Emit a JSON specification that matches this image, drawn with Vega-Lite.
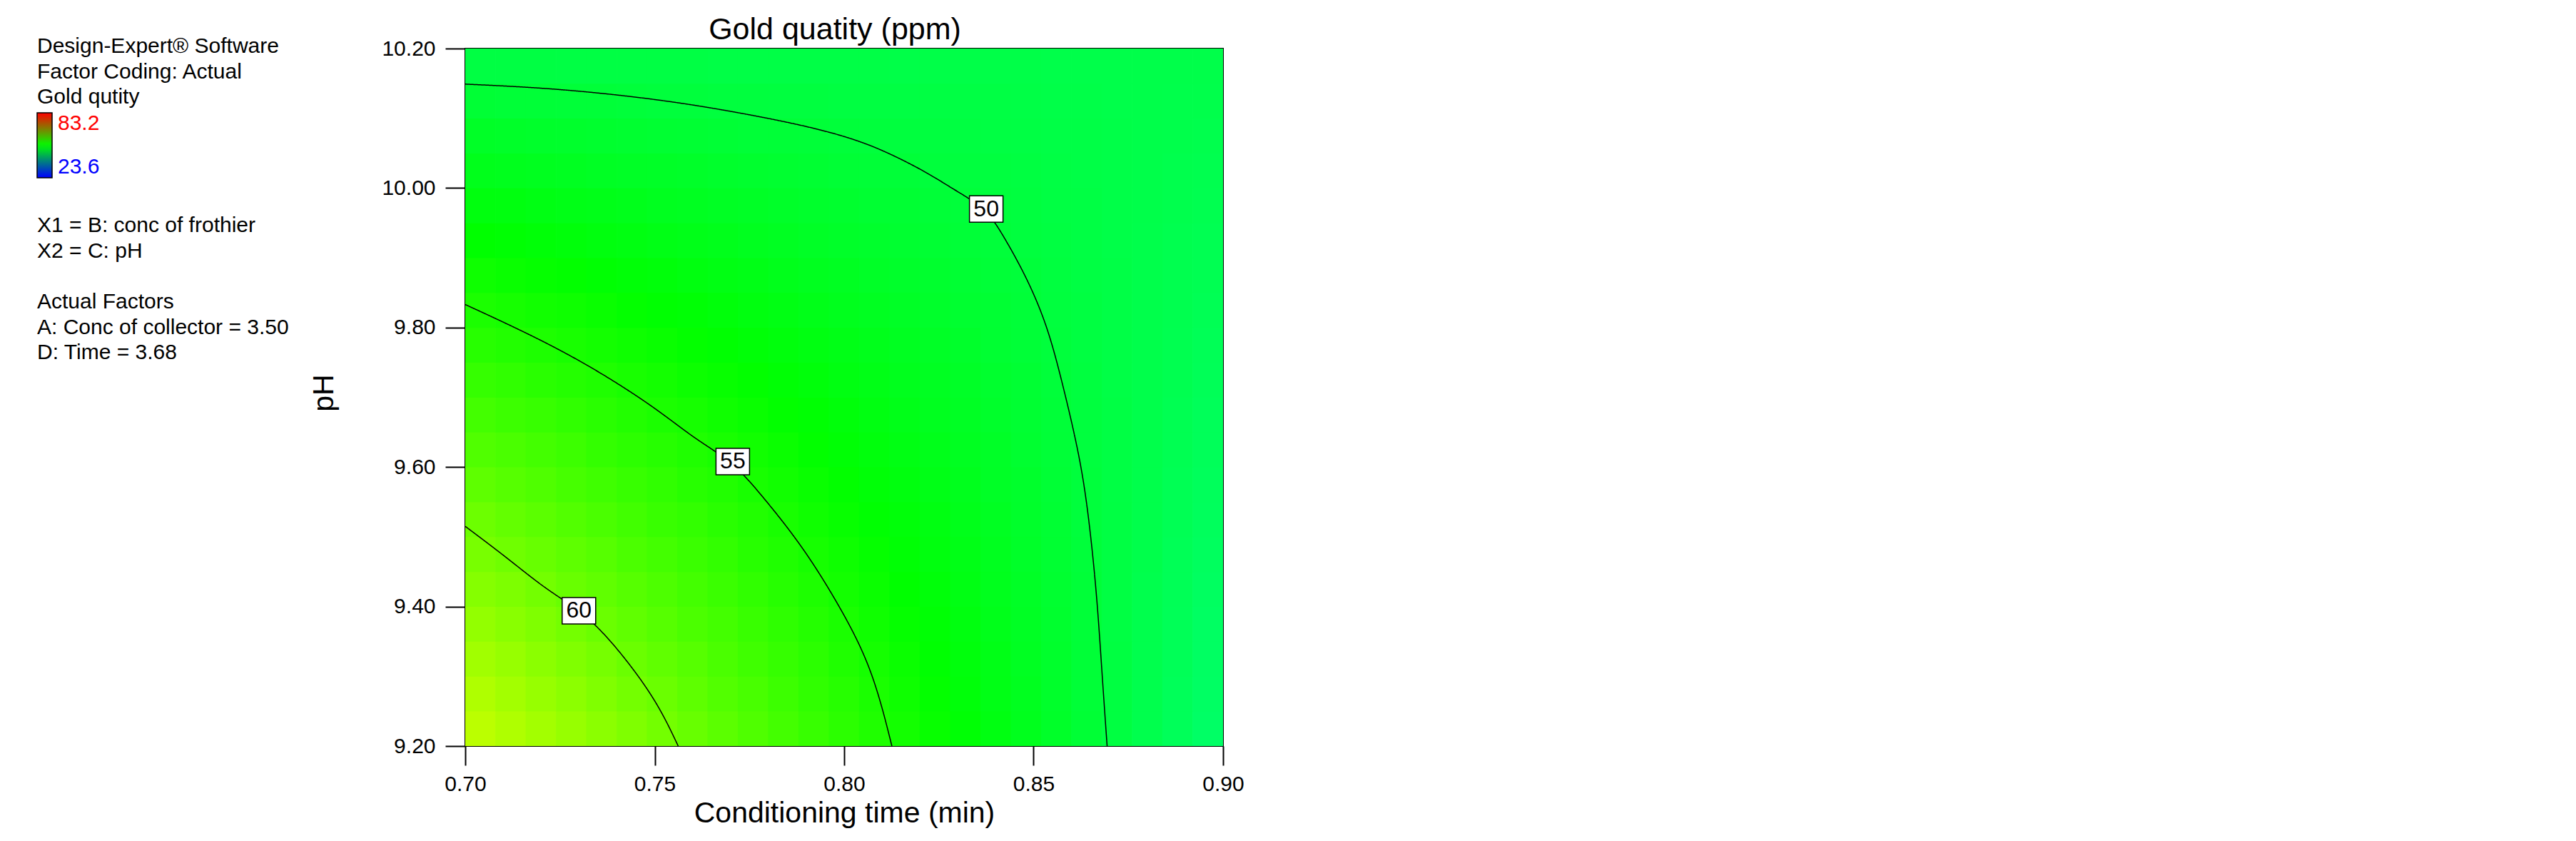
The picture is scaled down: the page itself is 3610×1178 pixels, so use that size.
{
"$schema": "https://vega.github.io/schema/vega-lite/v6.json",
"width": 1062,
"height": 977,
"autosize": {"type": "none"},
"padding": {"left": 652, "top": 68, "right": 1896, "bottom": 133},
"background": "white",
"title": {"text": "Gold quatity (ppm)", "fontSize": 43, "font": "Liberation Sans", "fontWeight": "normal", "color": "black", "anchor": "middle", "frame": "group", "baseline": "alphabetic", "offset": 0, "dx": -13, "dy": 48},
"config": {
"view": {"stroke": "black", "strokeWidth": 2},
"axis": {"labelFont": "Liberation Sans", "labelFontSize": 30, "labelColor": "black", "tickColor": "black", "tickWidth": 2, "domain": false, "grid": false, "titleFont": "Liberation Sans", "titleFontSize": 41, "titleFontWeight": "normal", "titleColor": "black", "labelFlush": false},
"legend": {"labelFont": "Liberation Sans", "titleFont": "Liberation Sans", "titleColor": "black", "labelColor": "black"}
},
"datasets": {
"grid": [
{"c":0.704,"p":9.225,"g":64.3},{"c":0.712,"p":9.225,"g":63.6},{"c":0.72,"p":9.225,"g":62.9},{"c":0.728,"p":9.225,"g":62.2},{"c":0.736,"p":9.225,"g":61.5},{"c":0.744,"p":9.225,"g":60.8},{"c":0.752,"p":9.225,"g":60.1},{"c":0.76,"p":9.225,"g":59.4},{"c":0.768,"p":9.225,"g":58.7},{"c":0.776,"p":9.225,"g":58.0},{"c":0.784,"p":9.225,"g":57.3},{"c":0.792,"p":9.225,"g":56.6},{"c":0.8,"p":9.225,"g":55.9},{"c":0.808,"p":9.225,"g":55.2},{"c":0.816,"p":9.225,"g":54.5},{"c":0.824,"p":9.225,"g":53.8},{"c":0.832,"p":9.225,"g":53.1},{"c":0.84,"p":9.225,"g":52.4},{"c":0.848,"p":9.225,"g":51.7},{"c":0.856,"p":9.225,"g":51.0},{"c":0.864,"p":9.225,"g":50.3},{"c":0.872,"p":9.225,"g":49.6},{"c":0.88,"p":9.225,"g":48.9},{"c":0.888,"p":9.225,"g":48.2},{"c":0.896,"p":9.225,"g":47.5},
{"c":0.704,"p":9.275,"g":63.6},{"c":0.712,"p":9.275,"g":62.9},{"c":0.72,"p":9.275,"g":62.2},{"c":0.728,"p":9.275,"g":61.6},{"c":0.736,"p":9.275,"g":60.9},{"c":0.744,"p":9.275,"g":60.2},{"c":0.752,"p":9.275,"g":59.6},{"c":0.76,"p":9.275,"g":58.9},{"c":0.768,"p":9.275,"g":58.2},{"c":0.776,"p":9.275,"g":57.6},{"c":0.784,"p":9.275,"g":56.9},{"c":0.792,"p":9.275,"g":56.2},{"c":0.8,"p":9.275,"g":55.6},{"c":0.808,"p":9.275,"g":54.9},{"c":0.816,"p":9.275,"g":54.2},{"c":0.824,"p":9.275,"g":53.6},{"c":0.832,"p":9.275,"g":52.9},{"c":0.84,"p":9.275,"g":52.2},{"c":0.848,"p":9.275,"g":51.6},{"c":0.856,"p":9.275,"g":50.9},{"c":0.864,"p":9.275,"g":50.2},{"c":0.872,"p":9.275,"g":49.6},{"c":0.88,"p":9.275,"g":48.9},{"c":0.888,"p":9.275,"g":48.2},{"c":0.896,"p":9.275,"g":47.6},
{"c":0.704,"p":9.325,"g":62.8},{"c":0.712,"p":9.325,"g":62.2},{"c":0.72,"p":9.325,"g":61.5},{"c":0.728,"p":9.325,"g":60.9},{"c":0.736,"p":9.325,"g":60.3},{"c":0.744,"p":9.325,"g":59.6},{"c":0.752,"p":9.325,"g":59.0},{"c":0.76,"p":9.325,"g":58.4},{"c":0.768,"p":9.325,"g":57.7},{"c":0.776,"p":9.325,"g":57.1},{"c":0.784,"p":9.325,"g":56.5},{"c":0.792,"p":9.325,"g":55.9},{"c":0.8,"p":9.325,"g":55.2},{"c":0.808,"p":9.325,"g":54.6},{"c":0.816,"p":9.325,"g":54.0},{"c":0.824,"p":9.325,"g":53.3},{"c":0.832,"p":9.325,"g":52.7},{"c":0.84,"p":9.325,"g":52.1},{"c":0.848,"p":9.325,"g":51.4},{"c":0.856,"p":9.325,"g":50.8},{"c":0.864,"p":9.325,"g":50.2},{"c":0.872,"p":9.325,"g":49.6},{"c":0.88,"p":9.325,"g":48.9},{"c":0.888,"p":9.325,"g":48.3},{"c":0.896,"p":9.325,"g":47.7},
{"c":0.704,"p":9.375,"g":62.0},{"c":0.712,"p":9.375,"g":61.4},{"c":0.72,"p":9.375,"g":60.8},{"c":0.728,"p":9.375,"g":60.2},{"c":0.736,"p":9.375,"g":59.6},{"c":0.744,"p":9.375,"g":59.0},{"c":0.752,"p":9.375,"g":58.4},{"c":0.76,"p":9.375,"g":57.8},{"c":0.768,"p":9.375,"g":57.3},{"c":0.776,"p":9.375,"g":56.7},{"c":0.784,"p":9.375,"g":56.1},{"c":0.792,"p":9.375,"g":55.5},{"c":0.8,"p":9.375,"g":54.9},{"c":0.808,"p":9.375,"g":54.3},{"c":0.816,"p":9.375,"g":53.7},{"c":0.824,"p":9.375,"g":53.1},{"c":0.832,"p":9.375,"g":52.5},{"c":0.84,"p":9.375,"g":51.9},{"c":0.848,"p":9.375,"g":51.3},{"c":0.856,"p":9.375,"g":50.7},{"c":0.864,"p":9.375,"g":50.1},{"c":0.872,"p":9.375,"g":49.5},{"c":0.88,"p":9.375,"g":48.9},{"c":0.888,"p":9.375,"g":48.3},{"c":0.896,"p":9.375,"g":47.7},
{"c":0.704,"p":9.425,"g":61.2},{"c":0.712,"p":9.425,"g":60.7},{"c":0.72,"p":9.425,"g":60.1},{"c":0.728,"p":9.425,"g":59.5},{"c":0.736,"p":9.425,"g":59.0},{"c":0.744,"p":9.425,"g":58.4},{"c":0.752,"p":9.425,"g":57.9},{"c":0.76,"p":9.425,"g":57.3},{"c":0.768,"p":9.425,"g":56.8},{"c":0.776,"p":9.425,"g":56.2},{"c":0.784,"p":9.425,"g":55.6},{"c":0.792,"p":9.425,"g":55.1},{"c":0.8,"p":9.425,"g":54.5},{"c":0.808,"p":9.425,"g":54.0},{"c":0.816,"p":9.425,"g":53.4},{"c":0.824,"p":9.425,"g":52.9},{"c":0.832,"p":9.425,"g":52.3},{"c":0.84,"p":9.425,"g":51.7},{"c":0.848,"p":9.425,"g":51.2},{"c":0.856,"p":9.425,"g":50.6},{"c":0.864,"p":9.425,"g":50.1},{"c":0.872,"p":9.425,"g":49.5},{"c":0.88,"p":9.425,"g":48.9},{"c":0.888,"p":9.425,"g":48.4},{"c":0.896,"p":9.425,"g":47.8},
{"c":0.704,"p":9.475,"g":60.4},{"c":0.712,"p":9.475,"g":59.9},{"c":0.72,"p":9.475,"g":59.4},{"c":0.728,"p":9.475,"g":58.9},{"c":0.736,"p":9.475,"g":58.4},{"c":0.744,"p":9.475,"g":57.8},{"c":0.752,"p":9.475,"g":57.3},{"c":0.76,"p":9.475,"g":56.8},{"c":0.768,"p":9.475,"g":56.3},{"c":0.776,"p":9.475,"g":55.7},{"c":0.784,"p":9.475,"g":55.2},{"c":0.792,"p":9.475,"g":54.7},{"c":0.8,"p":9.475,"g":54.2},{"c":0.808,"p":9.475,"g":53.7},{"c":0.816,"p":9.475,"g":53.1},{"c":0.824,"p":9.475,"g":52.6},{"c":0.832,"p":9.475,"g":52.1},{"c":0.84,"p":9.475,"g":51.6},{"c":0.848,"p":9.475,"g":51.0},{"c":0.856,"p":9.475,"g":50.5},{"c":0.864,"p":9.475,"g":50.0},{"c":0.872,"p":9.475,"g":49.5},{"c":0.88,"p":9.475,"g":49.0},{"c":0.888,"p":9.475,"g":48.4},{"c":0.896,"p":9.475,"g":47.9},
{"c":0.704,"p":9.525,"g":59.7},{"c":0.712,"p":9.525,"g":59.2},{"c":0.72,"p":9.525,"g":58.7},{"c":0.728,"p":9.525,"g":58.2},{"c":0.736,"p":9.525,"g":57.7},{"c":0.744,"p":9.525,"g":57.2},{"c":0.752,"p":9.525,"g":56.7},{"c":0.76,"p":9.525,"g":56.3},{"c":0.768,"p":9.525,"g":55.8},{"c":0.776,"p":9.525,"g":55.3},{"c":0.784,"p":9.525,"g":54.8},{"c":0.792,"p":9.525,"g":54.3},{"c":0.8,"p":9.525,"g":53.8},{"c":0.808,"p":9.525,"g":53.3},{"c":0.816,"p":9.525,"g":52.9},{"c":0.824,"p":9.525,"g":52.4},{"c":0.832,"p":9.525,"g":51.9},{"c":0.84,"p":9.525,"g":51.4},{"c":0.848,"p":9.525,"g":50.9},{"c":0.856,"p":9.525,"g":50.4},{"c":0.864,"p":9.525,"g":49.9},{"c":0.872,"p":9.525,"g":49.5},{"c":0.88,"p":9.525,"g":49.0},{"c":0.888,"p":9.525,"g":48.5},{"c":0.896,"p":9.525,"g":48.0},
{"c":0.704,"p":9.575,"g":58.9},{"c":0.712,"p":9.575,"g":58.4},{"c":0.72,"p":9.575,"g":58.0},{"c":0.728,"p":9.575,"g":57.5},{"c":0.736,"p":9.575,"g":57.1},{"c":0.744,"p":9.575,"g":56.6},{"c":0.752,"p":9.575,"g":56.2},{"c":0.76,"p":9.575,"g":55.7},{"c":0.768,"p":9.575,"g":55.3},{"c":0.776,"p":9.575,"g":54.8},{"c":0.784,"p":9.575,"g":54.4},{"c":0.792,"p":9.575,"g":53.9},{"c":0.8,"p":9.575,"g":53.5},{"c":0.808,"p":9.575,"g":53.0},{"c":0.816,"p":9.575,"g":52.6},{"c":0.824,"p":9.575,"g":52.1},{"c":0.832,"p":9.575,"g":51.7},{"c":0.84,"p":9.575,"g":51.2},{"c":0.848,"p":9.575,"g":50.8},{"c":0.856,"p":9.575,"g":50.3},{"c":0.864,"p":9.575,"g":49.9},{"c":0.872,"p":9.575,"g":49.4},{"c":0.88,"p":9.575,"g":49.0},{"c":0.888,"p":9.575,"g":48.5},{"c":0.896,"p":9.575,"g":48.1},
{"c":0.704,"p":9.625,"g":58.1},{"c":0.712,"p":9.625,"g":57.7},{"c":0.72,"p":9.625,"g":57.3},{"c":0.728,"p":9.625,"g":56.9},{"c":0.736,"p":9.625,"g":56.4},{"c":0.744,"p":9.625,"g":56.0},{"c":0.752,"p":9.625,"g":55.6},{"c":0.76,"p":9.625,"g":55.2},{"c":0.768,"p":9.625,"g":54.8},{"c":0.776,"p":9.625,"g":54.4},{"c":0.784,"p":9.625,"g":54.0},{"c":0.792,"p":9.625,"g":53.5},{"c":0.8,"p":9.625,"g":53.1},{"c":0.808,"p":9.625,"g":52.7},{"c":0.816,"p":9.625,"g":52.3},{"c":0.824,"p":9.625,"g":51.9},{"c":0.832,"p":9.625,"g":51.5},{"c":0.84,"p":9.625,"g":51.1},{"c":0.848,"p":9.625,"g":50.6},{"c":0.856,"p":9.625,"g":50.2},{"c":0.864,"p":9.625,"g":49.8},{"c":0.872,"p":9.625,"g":49.4},{"c":0.88,"p":9.625,"g":49.0},{"c":0.888,"p":9.625,"g":48.6},{"c":0.896,"p":9.625,"g":48.2},
{"c":0.704,"p":9.675,"g":57.3},{"c":0.712,"p":9.675,"g":56.9},{"c":0.72,"p":9.675,"g":56.6},{"c":0.728,"p":9.675,"g":56.2},{"c":0.736,"p":9.675,"g":55.8},{"c":0.744,"p":9.675,"g":55.4},{"c":0.752,"p":9.675,"g":55.0},{"c":0.76,"p":9.675,"g":54.7},{"c":0.768,"p":9.675,"g":54.3},{"c":0.776,"p":9.675,"g":53.9},{"c":0.784,"p":9.675,"g":53.5},{"c":0.792,"p":9.675,"g":53.2},{"c":0.8,"p":9.675,"g":52.8},{"c":0.808,"p":9.675,"g":52.4},{"c":0.816,"p":9.675,"g":52.0},{"c":0.824,"p":9.675,"g":51.6},{"c":0.832,"p":9.675,"g":51.3},{"c":0.84,"p":9.675,"g":50.9},{"c":0.848,"p":9.675,"g":50.5},{"c":0.856,"p":9.675,"g":50.1},{"c":0.864,"p":9.675,"g":49.8},{"c":0.872,"p":9.675,"g":49.4},{"c":0.88,"p":9.675,"g":49.0},{"c":0.888,"p":9.675,"g":48.6},{"c":0.896,"p":9.675,"g":48.2},
{"c":0.704,"p":9.725,"g":56.5},{"c":0.712,"p":9.725,"g":56.2},{"c":0.72,"p":9.725,"g":55.8},{"c":0.728,"p":9.725,"g":55.5},{"c":0.736,"p":9.725,"g":55.2},{"c":0.744,"p":9.725,"g":54.8},{"c":0.752,"p":9.725,"g":54.5},{"c":0.76,"p":9.725,"g":54.1},{"c":0.768,"p":9.725,"g":53.8},{"c":0.776,"p":9.725,"g":53.5},{"c":0.784,"p":9.725,"g":53.1},{"c":0.792,"p":9.725,"g":52.8},{"c":0.8,"p":9.725,"g":52.4},{"c":0.808,"p":9.725,"g":52.1},{"c":0.816,"p":9.725,"g":51.7},{"c":0.824,"p":9.725,"g":51.4},{"c":0.832,"p":9.725,"g":51.1},{"c":0.84,"p":9.725,"g":50.7},{"c":0.848,"p":9.725,"g":50.4},{"c":0.856,"p":9.725,"g":50.0},{"c":0.864,"p":9.725,"g":49.7},{"c":0.872,"p":9.725,"g":49.3},{"c":0.88,"p":9.725,"g":49.0},{"c":0.888,"p":9.725,"g":48.7},{"c":0.896,"p":9.725,"g":48.3},
{"c":0.704,"p":9.775,"g":55.7},{"c":0.712,"p":9.775,"g":55.4},{"c":0.72,"p":9.775,"g":55.1},{"c":0.728,"p":9.775,"g":54.8},{"c":0.736,"p":9.775,"g":54.5},{"c":0.744,"p":9.775,"g":54.2},{"c":0.752,"p":9.775,"g":53.9},{"c":0.76,"p":9.775,"g":53.6},{"c":0.768,"p":9.775,"g":53.3},{"c":0.776,"p":9.775,"g":53.0},{"c":0.784,"p":9.775,"g":52.7},{"c":0.792,"p":9.775,"g":52.4},{"c":0.8,"p":9.775,"g":52.1},{"c":0.808,"p":9.775,"g":51.8},{"c":0.816,"p":9.775,"g":51.5},{"c":0.824,"p":9.775,"g":51.2},{"c":0.832,"p":9.775,"g":50.9},{"c":0.84,"p":9.775,"g":50.5},{"c":0.848,"p":9.775,"g":50.2},{"c":0.856,"p":9.775,"g":49.9},{"c":0.864,"p":9.775,"g":49.6},{"c":0.872,"p":9.775,"g":49.3},{"c":0.88,"p":9.775,"g":49.0},{"c":0.888,"p":9.775,"g":48.7},{"c":0.896,"p":9.775,"g":48.4},
{"c":0.704,"p":9.825,"g":55.0},{"c":0.712,"p":9.825,"g":54.7},{"c":0.72,"p":9.825,"g":54.4},{"c":0.728,"p":9.825,"g":54.2},{"c":0.736,"p":9.825,"g":53.9},{"c":0.744,"p":9.825,"g":53.6},{"c":0.752,"p":9.825,"g":53.3},{"c":0.76,"p":9.825,"g":53.1},{"c":0.768,"p":9.825,"g":52.8},{"c":0.776,"p":9.825,"g":52.5},{"c":0.784,"p":9.825,"g":52.3},{"c":0.792,"p":9.825,"g":52.0},{"c":0.8,"p":9.825,"g":51.7},{"c":0.808,"p":9.825,"g":51.5},{"c":0.816,"p":9.825,"g":51.2},{"c":0.824,"p":9.825,"g":50.9},{"c":0.832,"p":9.825,"g":50.6},{"c":0.84,"p":9.825,"g":50.4},{"c":0.848,"p":9.825,"g":50.1},{"c":0.856,"p":9.825,"g":49.8},{"c":0.864,"p":9.825,"g":49.6},{"c":0.872,"p":9.825,"g":49.3},{"c":0.88,"p":9.825,"g":49.0},{"c":0.888,"p":9.825,"g":48.8},{"c":0.896,"p":9.825,"g":48.5},
{"c":0.704,"p":9.875,"g":54.2},{"c":0.712,"p":9.875,"g":53.9},{"c":0.72,"p":9.875,"g":53.7},{"c":0.728,"p":9.875,"g":53.5},{"c":0.736,"p":9.875,"g":53.2},{"c":0.744,"p":9.875,"g":53.0},{"c":0.752,"p":9.875,"g":52.8},{"c":0.76,"p":9.875,"g":52.5},{"c":0.768,"p":9.875,"g":52.3},{"c":0.776,"p":9.875,"g":52.1},{"c":0.784,"p":9.875,"g":51.8},{"c":0.792,"p":9.875,"g":51.6},{"c":0.8,"p":9.875,"g":51.4},{"c":0.808,"p":9.875,"g":51.1},{"c":0.816,"p":9.875,"g":50.9},{"c":0.824,"p":9.875,"g":50.7},{"c":0.832,"p":9.875,"g":50.4},{"c":0.84,"p":9.875,"g":50.2},{"c":0.848,"p":9.875,"g":50.0},{"c":0.856,"p":9.875,"g":49.7},{"c":0.864,"p":9.875,"g":49.5},{"c":0.872,"p":9.875,"g":49.3},{"c":0.88,"p":9.875,"g":49.0},{"c":0.888,"p":9.875,"g":48.8},{"c":0.896,"p":9.875,"g":48.6},
{"c":0.704,"p":9.925,"g":53.4},{"c":0.712,"p":9.925,"g":53.2},{"c":0.72,"p":9.925,"g":53.0},{"c":0.728,"p":9.925,"g":52.8},{"c":0.736,"p":9.925,"g":52.6},{"c":0.744,"p":9.925,"g":52.4},{"c":0.752,"p":9.925,"g":52.2},{"c":0.76,"p":9.925,"g":52.0},{"c":0.768,"p":9.925,"g":51.8},{"c":0.776,"p":9.925,"g":51.6},{"c":0.784,"p":9.925,"g":51.4},{"c":0.792,"p":9.925,"g":51.2},{"c":0.8,"p":9.925,"g":51.0},{"c":0.808,"p":9.925,"g":50.8},{"c":0.816,"p":9.925,"g":50.6},{"c":0.824,"p":9.925,"g":50.4},{"c":0.832,"p":9.925,"g":50.2},{"c":0.84,"p":9.925,"g":50.0},{"c":0.848,"p":9.925,"g":49.8},{"c":0.856,"p":9.925,"g":49.6},{"c":0.864,"p":9.925,"g":49.4},{"c":0.872,"p":9.925,"g":49.2},{"c":0.88,"p":9.925,"g":49.0},{"c":0.888,"p":9.925,"g":48.8},{"c":0.896,"p":9.925,"g":48.6},
{"c":0.704,"p":9.975,"g":52.6},{"c":0.712,"p":9.975,"g":52.5},{"c":0.72,"p":9.975,"g":52.3},{"c":0.728,"p":9.975,"g":52.1},{"c":0.736,"p":9.975,"g":52.0},{"c":0.744,"p":9.975,"g":51.8},{"c":0.752,"p":9.975,"g":51.6},{"c":0.76,"p":9.975,"g":51.5},{"c":0.768,"p":9.975,"g":51.3},{"c":0.776,"p":9.975,"g":51.2},{"c":0.784,"p":9.975,"g":51.0},{"c":0.792,"p":9.975,"g":50.8},{"c":0.8,"p":9.975,"g":50.7},{"c":0.808,"p":9.975,"g":50.5},{"c":0.816,"p":9.975,"g":50.4},{"c":0.824,"p":9.975,"g":50.2},{"c":0.832,"p":9.975,"g":50.0},{"c":0.84,"p":9.975,"g":49.9},{"c":0.848,"p":9.975,"g":49.7},{"c":0.856,"p":9.975,"g":49.5},{"c":0.864,"p":9.975,"g":49.4},{"c":0.872,"p":9.975,"g":49.2},{"c":0.88,"p":9.975,"g":49.1},{"c":0.888,"p":9.975,"g":48.9},{"c":0.896,"p":9.975,"g":48.7},
{"c":0.704,"p":10.025,"g":51.8},{"c":0.712,"p":10.025,"g":51.7},{"c":0.72,"p":10.025,"g":51.6},{"c":0.728,"p":10.025,"g":51.5},{"c":0.736,"p":10.025,"g":51.3},{"c":0.744,"p":10.025,"g":51.2},{"c":0.752,"p":10.025,"g":51.1},{"c":0.76,"p":10.025,"g":51.0},{"c":0.768,"p":10.025,"g":50.8},{"c":0.776,"p":10.025,"g":50.7},{"c":0.784,"p":10.025,"g":50.6},{"c":0.792,"p":10.025,"g":50.5},{"c":0.8,"p":10.025,"g":50.3},{"c":0.808,"p":10.025,"g":50.2},{"c":0.816,"p":10.025,"g":50.1},{"c":0.824,"p":10.025,"g":49.9},{"c":0.832,"p":10.025,"g":49.8},{"c":0.84,"p":10.025,"g":49.7},{"c":0.848,"p":10.025,"g":49.6},{"c":0.856,"p":10.025,"g":49.4},{"c":0.864,"p":10.025,"g":49.3},{"c":0.872,"p":10.025,"g":49.2},{"c":0.88,"p":10.025,"g":49.1},{"c":0.888,"p":10.025,"g":48.9},{"c":0.896,"p":10.025,"g":48.8},
{"c":0.704,"p":10.075,"g":51.1},{"c":0.712,"p":10.075,"g":51.0},{"c":0.72,"p":10.075,"g":50.9},{"c":0.728,"p":10.075,"g":50.8},{"c":0.736,"p":10.075,"g":50.7},{"c":0.744,"p":10.075,"g":50.6},{"c":0.752,"p":10.075,"g":50.5},{"c":0.76,"p":10.075,"g":50.4},{"c":0.768,"p":10.075,"g":50.3},{"c":0.776,"p":10.075,"g":50.2},{"c":0.784,"p":10.075,"g":50.2},{"c":0.792,"p":10.075,"g":50.1},{"c":0.8,"p":10.075,"g":50.0},{"c":0.808,"p":10.075,"g":49.9},{"c":0.816,"p":10.075,"g":49.8},{"c":0.824,"p":10.075,"g":49.7},{"c":0.832,"p":10.075,"g":49.6},{"c":0.84,"p":10.075,"g":49.5},{"c":0.848,"p":10.075,"g":49.4},{"c":0.856,"p":10.075,"g":49.3},{"c":0.864,"p":10.075,"g":49.3},{"c":0.872,"p":10.075,"g":49.2},{"c":0.88,"p":10.075,"g":49.1},{"c":0.888,"p":10.075,"g":49.0},{"c":0.896,"p":10.075,"g":48.9},
{"c":0.704,"p":10.125,"g":50.3},{"c":0.712,"p":10.125,"g":50.2},{"c":0.72,"p":10.125,"g":50.2},{"c":0.728,"p":10.125,"g":50.1},{"c":0.736,"p":10.125,"g":50.1},{"c":0.744,"p":10.125,"g":50.0},{"c":0.752,"p":10.125,"g":49.9},{"c":0.76,"p":10.125,"g":49.9},{"c":0.768,"p":10.125,"g":49.8},{"c":0.776,"p":10.125,"g":49.8},{"c":0.784,"p":10.125,"g":49.7},{"c":0.792,"p":10.125,"g":49.7},{"c":0.8,"p":10.125,"g":49.6},{"c":0.808,"p":10.125,"g":49.6},{"c":0.816,"p":10.125,"g":49.5},{"c":0.824,"p":10.125,"g":49.5},{"c":0.832,"p":10.125,"g":49.4},{"c":0.84,"p":10.125,"g":49.4},{"c":0.848,"p":10.125,"g":49.3},{"c":0.856,"p":10.125,"g":49.2},{"c":0.864,"p":10.125,"g":49.2},{"c":0.872,"p":10.125,"g":49.1},{"c":0.88,"p":10.125,"g":49.1},{"c":0.888,"p":10.125,"g":49.0},{"c":0.896,"p":10.125,"g":49.0},
{"c":0.704,"p":10.175,"g":49.5},{"c":0.712,"p":10.175,"g":49.5},{"c":0.72,"p":10.175,"g":49.5},{"c":0.728,"p":10.175,"g":49.4},{"c":0.736,"p":10.175,"g":49.4},{"c":0.744,"p":10.175,"g":49.4},{"c":0.752,"p":10.175,"g":49.4},{"c":0.76,"p":10.175,"g":49.4},{"c":0.768,"p":10.175,"g":49.3},{"c":0.776,"p":10.175,"g":49.3},{"c":0.784,"p":10.175,"g":49.3},{"c":0.792,"p":10.175,"g":49.3},{"c":0.8,"p":10.175,"g":49.3},{"c":0.808,"p":10.175,"g":49.3},{"c":0.816,"p":10.175,"g":49.2},{"c":0.824,"p":10.175,"g":49.2},{"c":0.832,"p":10.175,"g":49.2},{"c":0.84,"p":10.175,"g":49.2},{"c":0.848,"p":10.175,"g":49.2},{"c":0.856,"p":10.175,"g":49.1},{"c":0.864,"p":10.175,"g":49.1},{"c":0.872,"p":10.175,"g":49.1},{"c":0.88,"p":10.175,"g":49.1},{"c":0.888,"p":10.175,"g":49.1},{"c":0.896,"p":10.175,"g":49.1}
],
"contours": [
{"level":"60","c":0.7,"p":9.515},{"level":"60","c":0.7108,"p":9.471},{"level":"60","c":0.7212,"p":9.425},{"level":"60","c":0.73,"p":9.396},{"level":"60","c":0.737,"p":9.36},{"level":"60","c":0.7448,"p":9.308},{"level":"60","c":0.7514,"p":9.255},{"level":"60","c":0.7562,"p":9.2},
{"level":"55","c":0.7,"p":9.833},{"level":"55","c":0.7172,"p":9.79},{"level":"55","c":0.733,"p":9.745},{"level":"55","c":0.75,"p":9.686},{"level":"55","c":0.7606,"p":9.64},{"level":"55","c":0.7706,"p":9.608},{"level":"55","c":0.7788,"p":9.556},{"level":"55","c":0.7894,"p":9.484},{"level":"55","c":0.7998,"p":9.392},{"level":"55","c":0.8076,"p":9.308},{"level":"55","c":0.8126,"p":9.2},
{"level":"50","c":0.7,"p":10.149},{"level":"50","c":0.7238,"p":10.143},{"level":"50","c":0.75,"p":10.128},{"level":"50","c":0.7696,"p":10.111},{"level":"50","c":0.7894,"p":10.09},{"level":"50","c":0.8024,"p":10.071},{"level":"50","c":0.8116,"p":10.051},{"level":"50","c":0.822,"p":10.022},{"level":"50","c":0.8286,"p":9.999},{"level":"50","c":0.8374,"p":9.971},{"level":"50","c":0.8418,"p":9.934},{"level":"50","c":0.8482,"p":9.872},{"level":"50","c":0.8536,"p":9.803},{"level":"50","c":0.8574,"p":9.725},{"level":"50","c":0.8614,"p":9.634},{"level":"50","c":0.864,"p":9.556},{"level":"50","c":0.8666,"p":9.425},{"level":"50","c":0.868,"p":9.308},{"level":"50","c":0.8694,"p":9.2}
],
"labels": [
{"level":"50","c":0.8375,"p":9.97},{"level":"55","c":0.7706,"p":9.608},{"level":"60","c":0.73,"p":9.394}
]
},
"encoding": {
"x": {"field": "c", "type": "quantitative", "scale": {"domain": [0.7, 0.9], "nice": false, "zero": false}, "axis": {"title": "Conditioning time (min)", "values": [0.7, 0.75, 0.8, 0.85, 0.9], "format": ".2f", "tickSize": 27, "labelPadding": 11, "titleY": 106, "titleBaseline": "alphabetic"}},
"y": {"field": "p", "type": "quantitative", "scale": {"domain": [9.2, 10.2], "nice": false, "zero": false}, "axis": {"title": "pH", "values": [9.2, 9.4, 9.6, 9.8, 10.0, 10.2], "format": ".2f", "tickSize": 28, "labelPadding": 14, "titleX": -186, "titleY": 482, "titleBaseline": "alphabetic", "titleAngle": 270}}
},
"layer": [
{
"data": {"name": "grid"},
"mark": {"type": "rect", "width": 43.2, "height": 49.6, "clip": true, "strokeWidth": 0, "strokeOpacity": 0},
"encoding": {
"fill": {"field": "g", "type": "quantitative",
"scale": {"type": "linear", "domain": [23.6, 38.5, 53.4, 68.3, 83.2], "range": ["#0000ff", "#00ffff", "#00ff00", "#ffff00", "#ff0000"], "interpolate": "rgb"},
"legend": null},
"stroke": {"field": "g", "type": "quantitative",
"scale": {"type": "linear", "domain": [23.6, 53.4, 83.2], "range": ["#0000ff", "#00ff00", "#ff0000"], "interpolate": "rgb"},
"legend": {"orient": "none", "legendX": -600, "legendY": -18, "direction": "vertical", "title": ["Design-Expert® Software", "Factor Coding: Actual", "Gold qutity"], "titleFontSize": 30, "titleFontWeight": "normal", "titleLineHeight": 35.5, "titleLimit": 1000, "titlePadding": 7, "gradientLength": 91, "gradientThickness": 21, "gradientStrokeColor": "black", "gradientStrokeWidth": 1.5, "values": [23.6, 83.2], "format": ".1f", "labelFontSize": 30, "labelOffset": 8, "labelLimit": 300, "padding": 0,
"encode": {"labels": {"update": {"fill": {"signal": "datum.value > 50 ? '#ff0000' : '#0000ff'"}}}}}
}
}
},
{
"data": {"name": "contours"},
"mark": {"type": "line", "color": "black", "strokeWidth": 1.5, "interpolate": "basis", "clip": true},
"encoding": {
"strokeDash": {"field": "level", "type": "nominal", "scale": {"range": [[1, 0], [1, 0], [1, 0]]},
"legend": {"orient": "none", "legendX": -600, "legendY": 233, "title": ["X1 = B: conc of frothier", "X2 = C: pH"], "titleFontSize": 30, "titleFontWeight": "normal", "titleLineHeight": 35.5, "titleLimit": 1000, "symbolOpacity": 0, "symbolStrokeWidth": 0, "symbolSize": 0, "labelExpr": "''", "labelOpacity": 0, "padding": 0}}
}
},
{
"data": {"name": "labels"},
"mark": {"type": "point", "size": 1369, "filled": true, "fill": "white", "stroke": "black", "strokeWidth": 1.5, "opacity": 1},
"encoding": {
"shape": {"field": "level", "type": "nominal", "scale": {"range": ["M-1.27,-1L1.27,-1L1.27,1L-1.27,1Z", "M-1.27,-1L1.27,-1L1.27,1L-1.27,1Z", "M-1.27,-1L1.27,-1L1.27,1L-1.27,1Z"]},
"legend": {"orient": "none", "legendX": -600, "legendY": 340, "title": ["Actual Factors", "A: Conc of collector = 3.50", "D: Time = 3.68"], "titleFontSize": 30, "titleFontWeight": "normal", "titleLineHeight": 35.5, "titleLimit": 1000, "symbolOpacity": 0, "symbolStrokeWidth": 0, "symbolSize": 0, "symbolFillColor": "transparent", "labelExpr": "''", "labelOpacity": 0, "padding": 0}}
}
},
{
"data": {"name": "labels"},
"mark": {"type": "text", "fontSize": 32, "font": "Liberation Sans", "color": "black", "align": "center", "baseline": "middle"},
"encoding": {"text": {"field": "level"}}
}
]
}
